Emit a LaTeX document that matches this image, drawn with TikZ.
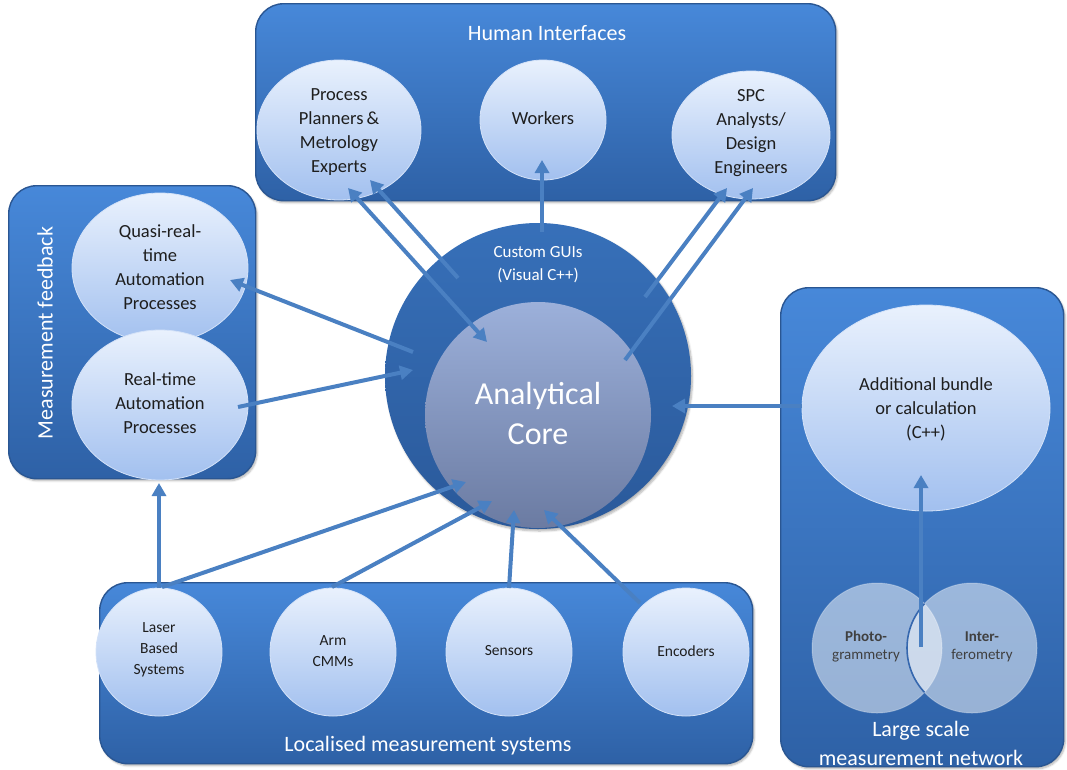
\documentclass[tikz,border=0pt]{standalone}
\usepackage{fontspec}
\setmainfont{Carlito}
\usetikzlibrary{shapes.geometric,arrows.meta,shadows.blur}

\definecolor{panelTop}{HTML}{4788D9}
\definecolor{panelBot}{HTML}{2E61A6}
\definecolor{panelEdge}{HTML}{2A5692}
\definecolor{lightTop}{HTML}{E9F1FD}
\definecolor{lightBot}{HTML}{A2C0EF}
\definecolor{lightEdge}{HTML}{D4E2F8}
\definecolor{ringTop}{HTML}{3770B9}
\definecolor{ringBot}{HTML}{2A599A}
\definecolor{coreTop}{HTML}{9CB0DA}
\definecolor{coreBot}{HTML}{6B7BA2}
\definecolor{arrowc}{HTML}{4A80C2}
\definecolor{txt}{HTML}{1E1E1E}
\definecolor{vennEdge}{HTML}{3567AE}

\begin{document}
\begin{tikzpicture}[x=1pt,y=-1pt,
  panel/.style={rectangle, rounded corners=28pt, top color=panelTop, bottom color=panelBot,
    draw=panelEdge, line width=1.4pt, inner sep=0pt, anchor=north west,
    blur shadow={shadow blur steps=6, shadow xshift=1.5pt, shadow yshift=-2pt, shadow opacity=30}},
  light/.style={ellipse, top color=lightTop, bottom color=lightBot, draw=lightEdge,
    line width=0.8pt, inner sep=0pt},
  ptitle/.style={text=white, font=\fontsize{22}{27}\selectfont, inner sep=0pt},
  lbl/.style={text=txt, align=center, inner sep=0pt, font=\fontsize{18.5}{24}\selectfont},
  small/.style={text=txt, align=center, inner sep=0pt, font=\fontsize{15.5}{21}\selectfont},
  venn/.style={circle, fill=white, fill opacity=0.5, draw=white, draw opacity=0.25, line width=1pt, minimum size=130pt, inner sep=0pt},
  arr/.style={draw=arrowc, line width=4pt, -{Triangle[length=13pt,width=14pt]}},
  arrb/.style={draw=arrowc, line width=4pt, {Triangle[length=13pt,width=14pt]}-{Triangle[length=13pt,width=14pt]}}
]
\useasboundingbox (0,0) rectangle (1067,769);

% ---------------- panels ----------------
\node[panel, minimum width=580pt, minimum height=197pt] (hipanel) at (255,3) {};
\node[ptitle] (hititle) at (547,33) {Human Interfaces};

\node[panel, minimum width=247pt, minimum height=293pt] (mfpanel) at (8,185) {};
\node[ptitle, rotate=90] (mftitle) at (45,333) {Measurement feedback};

\node[panel, minimum width=283pt, minimum height=479pt] (lspanel) at (780,287) {};
\node[ptitle, align=center, font=\fontsize{22}{29}\selectfont] (lstitle) at (921,743) {Large scale\\measurement network};

\node[panel, minimum width=653pt, minimum height=181pt] (lmpanel) at (99,582) {};
\node[ptitle] (lmtitle) at (428,746) {Localised measurement systems};

% ---------------- human interface circles ----------------
\node[light, minimum width=164pt, minimum height=140pt] (proc) at (339,130) {};
\node[lbl] (procL) at (339,132) {Process\\Planners\,\&\\Metrology\\Experts};

\node[light, minimum width=126pt, minimum height=120pt] (work) at (543,120) {};
\node[lbl] (workL) at (543,118) {Workers};

\node[light, minimum width=158pt, minimum height=128pt] (spc) at (751,135) {};
\node[lbl] (spcL) at (751,133) {SPC\\Analysts/\\Design\\Engineers};

% ---------------- feedback circles ----------------
\node[light, minimum width=176pt, minimum height=150pt] (quasi) at (160,268) {};
\node[lbl] (quasiL) at (160,267) {Quasi-real-\\time\\Automation\\Processes};

\node[light, minimum width=176pt, minimum height=150pt] (real) at (160,405) {};
\node[lbl] (realL) at (160,403) {Real-time\\Automation\\Processes};

% ---------------- central circles ----------------
\node[circle, top color=ringTop, bottom color=ringBot, draw=none, minimum size=306pt, inner sep=0pt,
  blur shadow={shadow blur steps=6, shadow xshift=1.5pt, shadow yshift=-2pt, shadow opacity=30}] (gui) at (538,376) {};
\node[text=white, align=center, inner sep=0pt, font=\fontsize{17}{23}\selectfont] (guiL) at (538,265) {Custom GUIs\\(Visual C++)};
\node[circle, top color=coreTop, bottom color=coreBot, draw=none, minimum size=226pt, inner sep=0pt] (core) at (538,415) {};
\node[text=white, align=center, inner sep=0pt, font=\fontsize{32}{40}\selectfont] (coreL) at (538,413) {Analytical\\Core};

% ---------------- large scale network ----------------
\node[light, minimum width=248pt, minimum height=206pt] (addl) at (926,408) {};
\node[lbl] (addlL) at (926,409) {Additional bundle\\or calculation\\(C++)};

\node[venn] (photo) at (877,648) {};
\node[venn] (inter) at (972,648) {};
\begin{scope}
  \clip (877,648) circle[radius=65pt];
  \draw[vennEdge, line width=1.6pt] (972,648) circle[radius=65pt];
\end{scope}
\node[small, text=black!75, font=\fontsize{15}{18}\selectfont] (photoL) at (866,647) {\textbf{Photo-}\\grammetry};
\node[small, text=black!75, font=\fontsize{15}{18}\selectfont] (interL) at (982,647) {\textbf{Inter-}\\ferometry};

% ---------------- localised systems ----------------
\node[light, minimum width=126pt, minimum height=128pt] (laser) at (159,652) {};
\node[small] (laserL) at (159,650) {Laser\\Based\\Systems};
\node[light, minimum width=126pt, minimum height=128pt] (arm) at (333,652) {};
\node[small] (armL) at (333,651) {Arm\\CMMs};
\node[light, minimum width=126pt, minimum height=128pt] (sens) at (509,652) {};
\node[small] (sensL) at (509,651) {Sensors};
\node[light, minimum width=126pt, minimum height=128pt] (enc) at (686,652) {};
\node[small] (encL) at (686,651) {Encoders};

% ---------------- connector end points ----------------
\coordinate (p1a) at (348,188);  \coordinate (c1a) at (487,342);
\coordinate (c1b) at (458,278);  \coordinate (p1b) at (370,180);
\coordinate (gw)  at (542,232);  \coordinate (wk)  at (542,160);
\coordinate (g3a) at (645,297);  \coordinate (s3a) at (727,188);
\coordinate (c3b) at (625,360);  \coordinate (s3b) at (753,188);
\coordinate (gq)  at (413,352);  \coordinate (qe)  at (230,280);
\coordinate (rs)  at (238,407);  \coordinate (gr)  at (413,370);
\coordinate (as)  at (802,406);  \coordinate (ga)  at (672,406);
\coordinate (vs)  at (921,647);  \coordinate (ae)  at (921,475);
\coordinate (ls1) at (159,588);  \coordinate (re)  at (159,483);
\coordinate (ls2) at (162,587);  \coordinate (cl)  at (466,482);
\coordinate (am)  at (332,587);  \coordinate (ca)  at (492,501);
\coordinate (ss)  at (509,588);  \coordinate (cs)  at (514,510);
\coordinate (es)  at (640,603);  \coordinate (ce)  at (544,510);

% ---------------- connectors ----------------
\draw[arrb] (p1a) -- (c1a);
\draw[arr] (c1b) -- (p1b);
\draw[arr] (gw) -- (wk);
\draw[arr] (g3a) -- (s3a);
\draw[arr] (c3b) -- (s3b);
\draw[arr] (gq) -- (qe);
\draw[arr] (rs) -- (gr);
\draw[arr] (as) -- (ga);
\draw[arr] (vs) -- (ae);
\draw[arr] (ls1) -- (re);
\draw[arr] (ls2) -- (cl);
\draw[arr] (am) -- (ca);
\draw[arr] (ss) -- (cs);
\draw[arr] (es) -- (ce);
\end{tikzpicture}
\end{document}
